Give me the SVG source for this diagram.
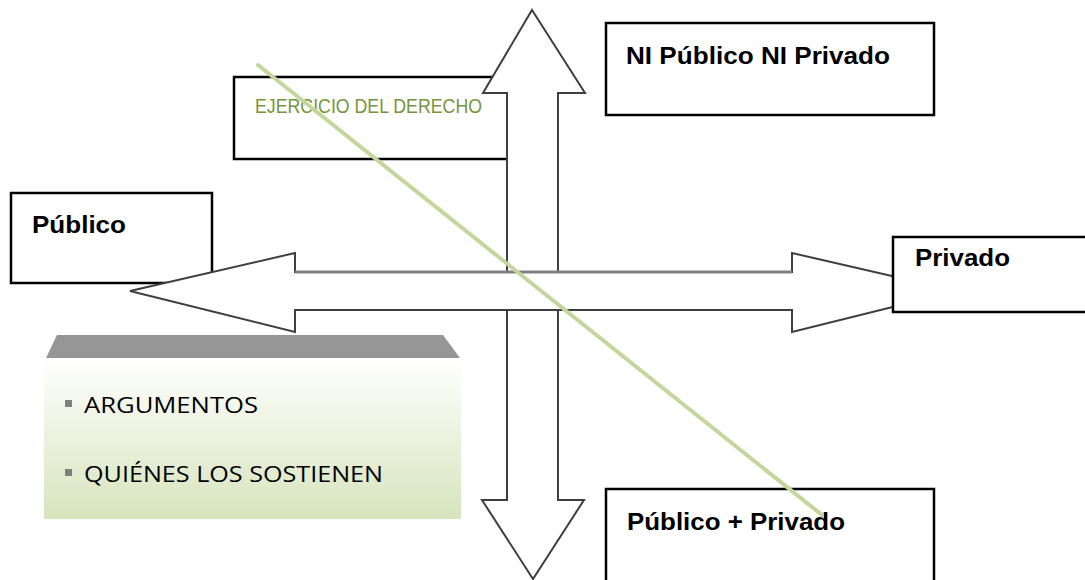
<svg xmlns="http://www.w3.org/2000/svg" width="1085" height="580" viewBox="0 0 1085 580">
  <defs>
    <linearGradient id="panelFill" x1="0" y1="0" x2="0" y2="1">
      <stop offset="0" stop-color="#ffffff"/>
      <stop offset="1" stop-color="#d7e4bd"/>
    </linearGradient>
    <style>
      .box { fill: #ffffff; stroke: #000000; stroke-width: 2.5; }
      .arrow { fill: #ffffff; stroke: #3f3f3f; stroke-width: 2; stroke-linejoin: miter; }
      .label { font-family: "Liberation Sans Narrow", "Liberation Sans", sans-serif; font-weight: bold; font-size: 24px; fill: #000000; }
      .green { font-family: "Liberation Sans Narrow", "Liberation Sans", sans-serif; font-size: 20px; fill: #77933c; }
      .item { font-family: "Open Sans", "Liberation Sans", sans-serif; font-size: 22px; fill: #000000; }
      .bullet { fill: #7f7f7f; }
    </style>
  </defs>
  <rect width="1085" height="580" fill="#ffffff"/>

  <g id="node-publico">
    <rect class="box" x="11" y="193" width="201" height="90"/>
    <text class="label" x="32" y="233" textLength="94" lengthAdjust="spacingAndGlyphs">Público</text>
  </g>

  <g id="node-ejercicio">
    <rect class="box" x="234" y="77" width="274" height="82"/>
    <text class="green" x="255" y="113" textLength="227" lengthAdjust="spacingAndGlyphs">EJERCICIO DEL DERECHO</text>
  </g>

  <g id="connectors">
    <!-- vertical double arrow -->
    <polygon class="arrow" points="532,10 585,93 558,93 558,500 584,500 533,579 482,500 507,500 507,93 483,93"/>
    <!-- horizontal double arrow -->
    <polygon class="arrow" points="130,291 295,253 295,272 792,272 792,253 957,291 792,332 792,310 295,310 295,332"/>
    <line x1="295" y1="272" x2="792" y2="272" stroke="#808080" stroke-width="3"/>
  </g>

  <g id="node-privado">
    <rect class="box" x="893" y="237" width="194" height="75"/>
    <text class="label" x="915" y="266" textLength="95" lengthAdjust="spacingAndGlyphs">Privado</text>
  </g>

  <g id="node-ni">
    <rect class="box" x="606" y="23" width="328" height="92"/>
    <text class="label" x="626" y="64" textLength="264" lengthAdjust="spacingAndGlyphs">NI Público NI Privado</text>
  </g>

  <g id="node-mixto">
    <rect class="box" x="606" y="489" width="328" height="95"/>
    <text class="label" x="627" y="530" textLength="218" lengthAdjust="spacingAndGlyphs">Público + Privado</text>
  </g>

  <g id="node-panel">
    <polygon points="57,335 443,335 460,358 46,358" fill="#969696"/>
    <rect x="44" y="358" width="417" height="161" fill="url(#panelFill)"/>
    <rect class="bullet" x="65" y="400" width="7" height="7"/>
    <text class="item" x="84" y="413" textLength="174" lengthAdjust="spacingAndGlyphs">ARGUMENTOS</text>
    <rect class="bullet" x="65" y="469" width="7" height="7"/>
    <text class="item" x="84" y="482" textLength="299" lengthAdjust="spacingAndGlyphs">QUIÉNES LOS SOSTIENEN</text>
  </g>

  <!-- diagonal stroke across the chart -->
  <line x1="258" y1="65" x2="822" y2="515" stroke="#c3d69b" stroke-width="4" stroke-linecap="round"/>
</svg>
